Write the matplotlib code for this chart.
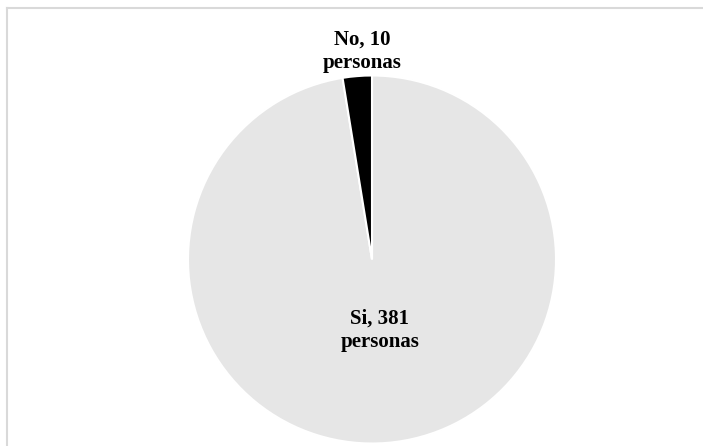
import matplotlib
matplotlib.use("Agg")
import matplotlib.pyplot as plt
from matplotlib.lines import Line2D

labels = ["Si", "No"]
values = [381, 10]
colors = ["#E6E6E6", "#000000"]

W, H = 703, 446
fig = plt.figure(figsize=(W / 100, H / 100), dpi=100)
fig.patch.set_facecolor("white")

# outer frame (top and left visible)
fx, fy = 6.5 / W, (H - 7.5) / H
fig.add_artist(Line2D([fx, 1.01], [fy, fy], transform=fig.transFigure,
                      color="#D9D9D9", linewidth=1.5))
fig.add_artist(Line2D([fx, fx], [-0.01, fy], transform=fig.transFigure,
                      color="#D9D9D9", linewidth=1.5))

cx, cy, r = 372, 446 - 259.5, 184
ax = fig.add_axes([(cx - r) / W, (cy - r) / H, 2 * r / W, 2 * r / H])
ax.pie(values, colors=colors, startangle=90, counterclock=False,
       wedgeprops=dict(edgecolor="white", linewidth=1.5))
ax.set_xlim(-1, 1)
ax.set_ylim(-1, 1)
ax.set_aspect("auto")
ax.axis("off")

font = dict(family="Liberation Serif", fontsize=15, fontweight="bold",
            ha="center", va="baseline", linespacing=1.2)
ax.text(-0.054, 1.041, f"{labels[1]}, {values[1]}\npersonas", clip_on=False, **font)
ax.text(0.043, -0.476, f"{labels[0]}, {values[0]}\npersonas", **font)

fig.savefig("out.png", dpi=100)
